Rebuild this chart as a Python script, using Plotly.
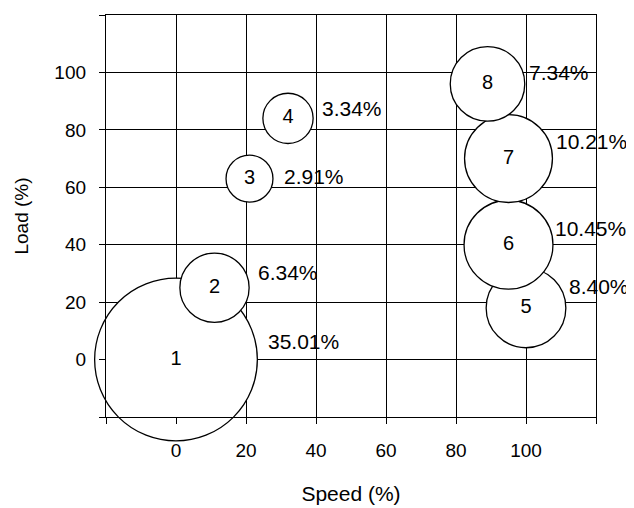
import plotly.graph_objects as go

# Data
bubble_ids = ["1", "2", "3", "4", "5", "6", "7", "8"]
speed = [0, 11, 21, 32, 100, 95, 95, 89]
load = [0, 25, 63, 84, 18, 40, 70, 96]
share = [35.01, 6.34, 2.91, 3.34, 8.40, 10.45, 10.21, 7.34]
share_labels = ["35.01%", "6.34%", "2.91%", "3.34%", "8.40%", "10.45%", "10.21%", "7.34%"]
tick_values = [-20, 0, 20, 40, 60, 80, 100, 120]
tick_labels = ["", "0", "20", "40", "60", "80", "100", ""]

# label offsets (pixels) relative to bubble centre
label_dx = [90, 41, 32, 32, 41, 44, 45, 39]
label_dy = [18, 15, 2, 10, 21, 16, 17, 11]

FONT = "Liberation Sans, Arial, sans-serif"

fig = go.Figure()
fig.add_trace(go.Scatter(
    x=speed, y=load, mode="markers+text",
    text=bubble_ids, textposition="middle center",
    textfont=dict(family=FONT, size=20, color="black"),
    marker=dict(size=share, sizemode="area", sizeref=2 / 27.5 ** 2,
                color="white", opacity=1,
                line=dict(color="black", width=1.3)),
    cliponaxis=False, showlegend=False, hoverinfo="skip",
))

for xi, yi, lab, dx, dy in zip(speed, load, share_labels, label_dx, label_dy):
    fig.add_annotation(x=xi, y=yi, text=lab, showarrow=False,
                       xanchor="left", yanchor="middle",
                       xshift=dx, yshift=dy,
                       font=dict(family=FONT, size=21, color="black"))

axis_common = dict(
    range=[-20, 120], tickmode="array", tickvals=tick_values, ticktext=tick_labels,
    showgrid=True, gridcolor="black", gridwidth=1.3, zeroline=False,
    showline=True, linecolor="black", linewidth=1.3, mirror=True,
    ticks="outside", ticklen=6, tickcolor="black", tickwidth=1.3,
    tickfont=dict(family=FONT, size=19, color="black"),
)

fig.update_layout(
    width=626, height=500,
    margin=dict(l=98, r=38, t=6, b=88),
    paper_bgcolor="white", plot_bgcolor="white",
    xaxis=dict(**axis_common, ticklabelstandoff=10,
               title=dict(text="Speed (%)", standoff=26,
                          font=dict(family=FONT, size=21, color="black"))),
    yaxis=dict(**axis_common, ticklabelstandoff=9,
               title=dict(text="Load (%)", standoff=20,
                          font=dict(family=FONT, size=19, color="black"))),
)

fig.write_html("out.html")
